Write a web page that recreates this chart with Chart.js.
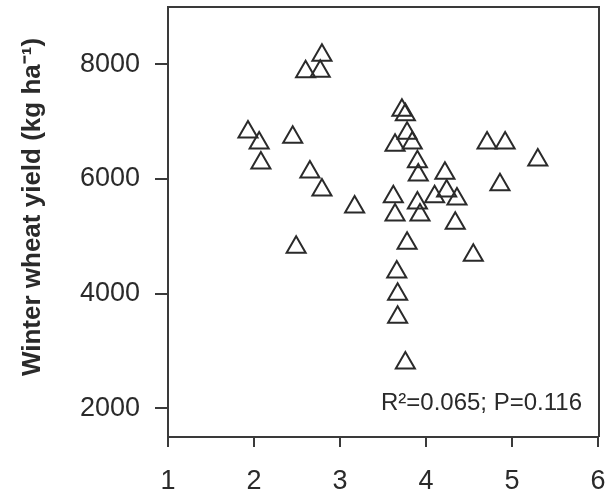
<!DOCTYPE html>
<html>
<head>
<meta charset="utf-8">
<script src="https://cdn.jsdelivr.net/npm/chart.js@4.4.1/dist/chart.umd.min.js"></script>
<style>
  body { margin: 0; background: #fff; }
  #wrap { width: 605px; height: 500px; }
</style>
</head>
<body>
<div id="wrap"><canvas id="myChart"></canvas></div>
<script>
// soil property (x) vs winter wheat yield (y)
const xValues = [1.93, 2.06, 2.08, 2.45, 2.65, 2.79, 3.17, 2.49, 2.79, 2.60, 2.77,
    3.72, 3.76, 3.78, 3.64, 3.84, 3.90, 3.91, 4.22, 4.71, 4.92, 5.30, 4.86,
    3.62, 3.90, 4.10, 4.24, 4.36, 3.64, 3.93, 4.34, 3.78, 4.55, 3.66, 3.67, 3.67, 3.76];
const yValues = [6820, 6630, 6280, 6730, 6120, 5810, 5510, 4810, 8160, 7870, 7880,
    7200, 7120, 6800, 6590, 6630, 6300, 6070, 6100, 6630, 6630, 6330, 5900,
    5690, 5580, 5690, 5790, 5650, 5370, 5370, 5230, 4880, 4670, 4380, 3990, 3590, 2790];
const yTicks = [2000, 4000, 6000, 8000];
const xTicks = [1, 2, 3, 4, 5, 6];
const yTitle = "Winter wheat yield (kg ha\u207B\u00B9)";
const statText = "R\u00B2=0.065; P=0.116";

const fontFamily = "'Liberation Sans', Arial, sans-serif";
const ink = "#2a2a2a";

const points = xValues.map((x, i) => ({ x: x, y: yValues[i] }));

// top + right frame, y title and the stats text
const framePlugin = {
    id: "frame",
    afterDraw(chart) {
        const ctx = chart.ctx;
        const a = chart.chartArea;
        ctx.save();
        ctx.strokeStyle = "#3a3a3a";
        ctx.lineWidth = 2;
        ctx.beginPath();
        ctx.moveTo(a.left, a.top);
        ctx.lineTo(a.right + 1, a.top);
        ctx.lineTo(a.right + 1, a.bottom);
        ctx.stroke();

        ctx.fillStyle = ink;
        ctx.font = "24px " + fontFamily;
        ctx.textAlign = "right";
        ctx.textBaseline = "alphabetic";
        ctx.fillText(statText, a.right - 16, a.bottom - 27);

        // axis title sits a bit above the plot centre in the original
        ctx.translate(33, 207);
        ctx.rotate(-Math.PI / 2);
        ctx.font = "bold 26px " + fontFamily;
        ctx.textAlign = "center";
        ctx.textBaseline = "middle";
        ctx.fillText(yTitle, 0, 0);
        ctx.restore();
    }
};

function noPad(scale) {
    scale.paddingTop = 0;
    scale.paddingBottom = 0;
    scale.paddingLeft = 0;
    scale.paddingRight = 0;
}

new Chart(document.getElementById("myChart"), {
    type: "scatter",
    data: {
        datasets: [{
            data: points,
            pointStyle: "triangle",
            pointRadius: 11,
            pointHoverRadius: 11,
            borderWidth: 2,
            borderColor: ink,
            backgroundColor: "rgba(0,0,0,0)"
        }]
    },
    options: {
        responsive: true,
        maintainAspectRatio: false,
        animation: false,
        layout: { autoPadding: false, padding: { top: 7, right: 7, left: 0, bottom: 0 } },
        plugins: { legend: { display: false }, tooltip: { enabled: false } },
        scales: {
            x: {
                type: "linear",
                min: 1,
                max: 6,
                afterBuildTicks: (axis) => { axis.ticks = xTicks.map((v) => ({ value: v })); },
                afterFit: (scale) => { scale.height = 63; noPad(scale); },
                grid: { drawOnChartArea: false, tickLength: 10, color: "#3a3a3a", lineWidth: 2 },
                border: { color: "#3a3a3a", width: 2 },
                ticks: {
                    color: ink, padding: 18, maxRotation: 0,
                    font: { family: fontFamily, size: 27 },
                    callback: (v) => String(v)
                }
            },
            y: {
                type: "linear",
                min: 1500,
                max: 9000,
                afterBuildTicks: (axis) => { axis.ticks = yTicks.map((v) => ({ value: v })); },
                afterFit: (scale) => { scale.width = 168; noPad(scale); },
                grid: { drawOnChartArea: false, tickLength: 13, color: "#3a3a3a", lineWidth: 2 },
                border: { color: "#3a3a3a", width: 2 },
                ticks: {
                    color: ink, padding: 15,
                    font: { family: fontFamily, size: 27 },
                    callback: (v) => String(v)
                }
            }
        }
    },
    plugins: [framePlugin]
});
</script>
</body>
</html>
